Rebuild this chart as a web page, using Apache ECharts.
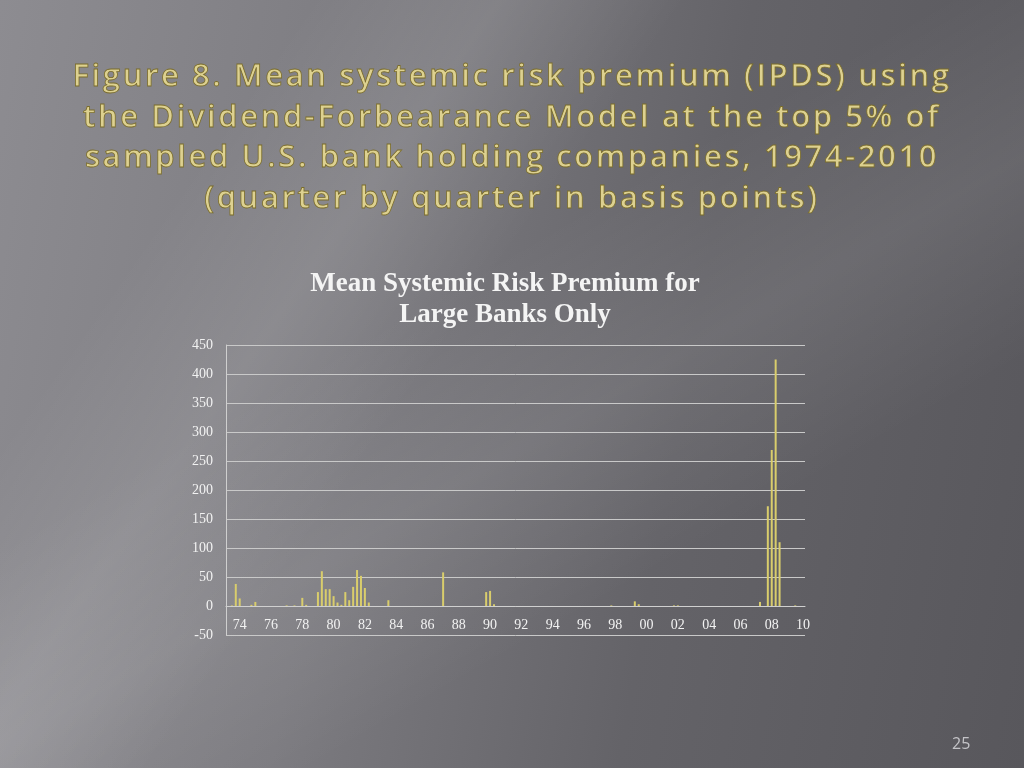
<!DOCTYPE html>
<html>
<head>
<meta charset="utf-8">
<script src="https://cdn.jsdelivr.net/npm/echarts@6/dist/echarts.min.js"></script>
<style>
html,body{margin:0;padding:0;width:1024px;height:768px;overflow:hidden;}
body{
  position:relative;
  background:
    linear-gradient(125deg, rgba(255,255,255,0) 20%, rgba(255,255,255,0.10) 32%, rgba(255,255,255,0) 44%),
    linear-gradient(150deg, rgba(255,255,255,0) 40%, rgba(255,255,255,0.08) 55%, rgba(255,255,255,0) 70%),
    linear-gradient(100deg, #8d8c91 0%, #7c7b80 35%, #646368 65%, #58575c 100%);
}
#chart{position:absolute;left:0;top:0;width:1024px;height:768px;}
#slideTitle{
  position:absolute;left:0;top:54px;width:1024px;margin:0;
  text-align:center;
  font-family:'Open Sans',sans-serif;font-size:31px;font-weight:600;
  line-height:40.5px;letter-spacing:2.6px;
  color:#ddd190;
  -webkit-text-stroke:0.8px #7a6c2c;
  white-space:pre;z-index:2;
}
</style>
</head>
<body>
<div id="chart"></div>
<h1 id="slideTitle"></h1>
<script>
// Quarterly categories 1974Q1 .. 2010Q4
const years = [];
for (let y = 1974; y <= 2010; y++) years.push(y);
const categories = [];
years.forEach(y => { for (let q = 1; q <= 4; q++) categories.push(y + 'Q' + q); });

// Mean systemic risk premium (basis points), one row per year, Q1..Q4
const premium = [
  0, 1, 38, 13,     // 1974
  0, 0, 2, 7,       // 1975
  0, 0, 0, 0,       // 1976
  0, 0, 0, 1,       // 1977
  0, 1, 0, 14,      // 1978
  2, 0, 0, 24,      // 1979
  60, 29, 29, 17,   // 1980
  6, 2, 24, 10,     // 1981
  33, 62, 52, 31,   // 1982
  6, 0, 0, 0,       // 1983
  0, 10, 0, 0,      // 1984
  0, 0, 0, 0,       // 1985
  0, 0, 0, 0,       // 1986
  0, 0, 0, 58,      // 1987
  0, 0, 0, 0,       // 1988
  0, 0, 0, 0,       // 1989
  0, 0, 24, 26,     // 1990
  3, 0, 0, 0,       // 1991
  0, 0, 0, 0,       // 1992
  0, 0, 0, 0,       // 1993
  0, 0, 0, 0,       // 1994
  0, 0, 0, 0,       // 1995
  0, 0, 0, 0,       // 1996
  0, 0, 0, 0,       // 1997
  0, 0, 1, 0,       // 1998
  0, 0, 0, 0,       // 1999
  8, 3, 0, 0,       // 2000
  0, 0, 0, 0,       // 2001
  0, 0, 1, 1,       // 2002
  0, 0, 0, 0,       // 2003
  0, 0, 0, 0,       // 2004
  0, 0, 0, 0,       // 2005
  0, 0, 0, 0,       // 2006
  0, 0, 0, 0,       // 2007
  7, 0, 172, 269,   // 2008
  425, 110, 0, 0,   // 2009
  0, 1, 0, 0        // 2010
];

const yTicks = { min: -50, max: 450, interval: 50 };

const slideTitle = 'Figure 8. Mean systemic risk premium (IPDS) using\nthe Dividend-Forbearance Model at the top 5% of\nsampled U.S. bank holding companies, 1974-2010\n(quarter by quarter in basis points)';
const chartTitle = 'Mean Systemic Risk Premium for\nLarge Banks Only';
const pageNumber = '25';

document.getElementById('slideTitle').textContent = slideTitle;

const chart = echarts.init(document.getElementById('chart'), null, { renderer: 'canvas' });
chart.setOption({
  backgroundColor: 'transparent',
  animation: false,
  graphic: [
    {
      type: 'text',
      x: 505,
      y: 269,
      style: {
        text: chartTitle,
        fontFamily: 'Liberation Serif',
        fontSize: 27,
        fontWeight: 'bold',
        fill: '#f4f4f4',
        lineHeight: 31,
        align: 'center',
        verticalAlign: 'top'
      }
    },
    {
      type: 'text',
      x: 952,
      y: 736,
      style: {
        text: pageNumber,
        fontFamily: 'Open Sans',
        fontSize: 16,
        fill: '#c4c4c8',
        verticalAlign: 'top'
      }
    }
  ],
  grid: { left: 226, right: 219, top: 345, bottom: 133, containLabel: false },
  xAxis: {
    type: 'category',
    data: categories,
    boundaryGap: true,
    offset: -29,
    axisLine: { show: true, onZero: false, lineStyle: { color: '#d0d0d0', width: 1 } },
    axisTick: { show: false },
    axisLabel: {
      interval: (i) => i % 8 === 3,
      formatter: (v) => v.slice(2, 4),
      color: '#f2f2f2',
      fontFamily: 'Liberation Serif',
      fontSize: 14,
      margin: 12
    },
    splitLine: { show: false }
  },
  yAxis: {
    type: 'value',
    min: yTicks.min,
    max: yTicks.max,
    interval: yTicks.interval,
    axisLine: { show: true, lineStyle: { color: '#cfcfcf', width: 1 } },
    axisTick: { show: false },
    axisLabel: {
      color: '#f2f2f2',
      fontFamily: 'Liberation Serif',
      fontSize: 14,
      margin: 13
    },
    splitLine: { show: true, lineStyle: { color: '#c9c9c9', width: 1 } }
  },
  series: [{
    type: 'bar',
    data: premium,
    barWidth: 2,
    itemStyle: { color: '#d9cd6c' }
  }]
});
</script>
</body>
</html>
